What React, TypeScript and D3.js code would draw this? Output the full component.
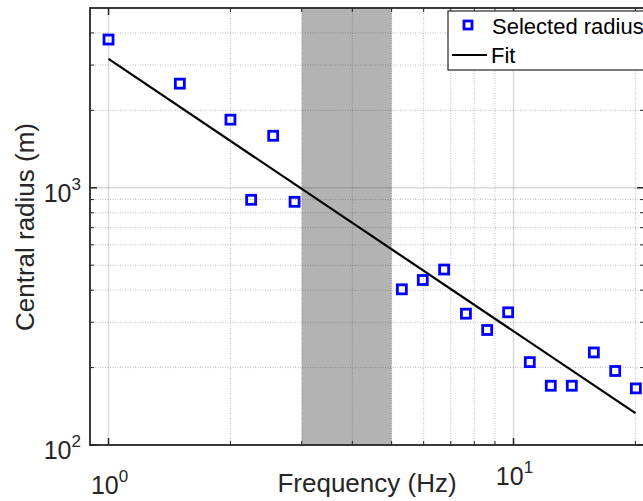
import React from 'react';
import * as d3 from 'd3';

// values
const frequency = [1.0, 1.5, 2.0, 2.25, 2.55, 2.88, 5.3, 5.97, 6.74, 7.63, 8.61, 9.7, 10.97, 12.36, 13.93, 15.79, 17.83, 20.05];
const radius = [3770, 2540, 1840, 898, 1593, 882, 403, 438, 481, 324, 280, 328, 210, 170, 170, 229, 194, 166];
const fitFrequency = [1, 20];
const fitRadius = [3170, 133];
const excludedBand = [3, 5];
const xMajorTicks = [1, 10];
const yMajorTicks = [100, 1000];
const legendLabels = ['Selected radius', 'Fit'];

const W = 643;
const H = 501;
const left = 90;
const right = 644;
const top = 8;
const bottom = 445;
const axisColor = '#262626';
const font = '"Liberation Sans", Arial, sans-serif';

const minorValues = (lo: number, hi: number) => {
  const out: number[] = [];
  for (let d = 0.1; d <= 10000; d *= 10) {
    for (let k = 2; k <= 9; k++) {
      const v = Math.round(k * d * 1000) / 1000;
      if (v > lo && v < hi) out.push(v);
    }
  }
  return out;
};

const Pow = ({ x, y, exp, anchor }: { x: number; y: number; exp: number; anchor: string }) => (
  <text x={x} y={y} textAnchor={anchor} fontSize={25} fill={axisColor} fontFamily={font}>
    10
    <tspan dy={-12} fontSize={17}>{exp}</tspan>
  </text>
);

export default function App() {
  const x = d3.scaleLog().domain([0.9, 21]).range([left, right]);
  const y = d3.scaleLog().domain([100, 5000]).range([bottom, top]);

  const xMinor = minorValues(0.9, 21);
  const yMinor = minorValues(100, 5000);

  const fitLine = d3
    .line<number>()
    .x((d) => x(d))
    .y((_, i) => y(fitRadius[i]));

  const box = 9;

  return (
    <svg width={W} height={H} style={{ position: 'absolute', left: 0, top: 0, background: '#fff' }}>
      <rect x={0} y={0} width={W} height={H} fill="#fff" />
      {/* shaded band */}
      <rect
        x={x(excludedBand[0])}
        y={top}
        width={x(excludedBand[1]) - x(excludedBand[0])}
        height={bottom - top}
        fill="#b3b3b3"
      />
      {/* grid */}
      {xMinor.map((v) => (
        <line key={'xg' + v} x1={x(v)} x2={x(v)} y1={top} y2={bottom} stroke="rgba(38,38,38,0.3)" strokeWidth={1} strokeDasharray="1,1.5" />
      ))}
      {yMinor.map((v) => (
        <line key={'yg' + v} x1={left} x2={right} y1={y(v)} y2={y(v)} stroke="rgba(38,38,38,0.3)" strokeWidth={1} strokeDasharray="1,1.5" />
      ))}
      {xMajorTicks.map((v) => (
        <line key={'xM' + v} x1={x(v)} x2={x(v)} y1={top} y2={bottom} stroke="rgba(38,38,38,0.17)" strokeWidth={1.5} />
      ))}
      {yMajorTicks.map((v) => (
        <line key={'yM' + v} x1={left} x2={right} y1={y(v)} y2={y(v)} stroke="rgba(38,38,38,0.17)" strokeWidth={1.5} />
      ))}

      {/* fit */}
      <path d={fitLine(fitFrequency) || ''} fill="none" stroke="#000" strokeWidth={2.2} />

      {/* markers */}
      {frequency.map((f, i) => (
        <rect
          key={'p' + i}
          x={x(f) - box / 2}
          y={y(radius[i]) - box / 2}
          width={box}
          height={box}
          fill="none"
          stroke="#0000ff"
          strokeWidth={2.8}
        />
      ))}

      {/* ticks */}
      {xMinor.map((v) => (
        <g key={'xt' + v} stroke={axisColor} strokeWidth={1}>
          <line x1={x(v)} x2={x(v)} y1={bottom} y2={bottom - 4} />
          <line x1={x(v)} x2={x(v)} y1={top} y2={top + 4} />
        </g>
      ))}
      {xMajorTicks.map((v) => (
        <g key={'xT' + v} stroke={axisColor} strokeWidth={1.5}>
          <line x1={x(v)} x2={x(v)} y1={bottom} y2={bottom - 7} />
          <line x1={x(v)} x2={x(v)} y1={top} y2={top + 7} />
        </g>
      ))}
      {yMinor.map((v) => (
        <g key={'yt' + v} stroke={axisColor} strokeWidth={1}>
          <line x1={left} x2={left + 4} y1={y(v)} y2={y(v)} />
          <line x1={right} x2={right - 4} y1={y(v)} y2={y(v)} />
        </g>
      ))}
      {yMajorTicks.map((v) => (
        <g key={'yT' + v} stroke={axisColor} strokeWidth={1.5}>
          <line x1={left} x2={left + 7} y1={y(v)} y2={y(v)} />
          <line x1={right} x2={right - 7} y1={y(v)} y2={y(v)} />
        </g>
      ))}

      {/* axes box */}
      <rect x={left} y={top} width={right - left} height={bottom - top} fill="none" stroke={axisColor} strokeWidth={1.8} />

      {/* tick labels */}
      {xMajorTicks.map((v, i) => (
        <Pow key={'xl' + v} x={x(v) + 1} y={i === 0 ? 494 : 485} exp={Math.round(Math.log10(v))} anchor="middle" />
      ))}
      {yMajorTicks.map((v) => (
        <Pow key={'yl' + v} x={81} y={y(v) + 14} exp={Math.round(Math.log10(v))} anchor="end" />
      ))}

      {/* axis labels */}
      <text x={367} y={492} textAnchor="middle" fontSize={26} fill={axisColor} fontFamily={font}>
        Frequency (Hz)
      </text>
      <text
        transform="translate(34,227) rotate(-90)"
        textAnchor="middle"
        fontSize={26}
        fill={axisColor}
        fontFamily={font}
      >
        Central radius (m)
      </text>

      {/* legend */}
      <g fontFamily={font} fontSize={22} fill="#000">
        <rect x={448} y={11} width={210} height={59} fill="#fff" stroke={axisColor} strokeWidth={1.2} />
        <rect x={468 - 4} y={25 - 4} width={8} height={8} fill="none" stroke="#0000ff" strokeWidth={2.8} />
        <text x={492} y={34}>{legendLabels[0]}</text>
        <line x1={452} x2={487} y1={55} y2={55} stroke="#000" strokeWidth={2.2} />
        <text x={491} y={63}>{legendLabels[1]}</text>
      </g>
    </svg>
  );
}
